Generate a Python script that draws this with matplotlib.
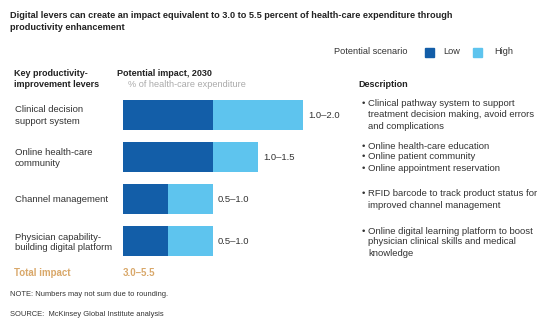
import matplotlib.pyplot as plt

plt.rcParams['font.family'] = ['Liberation Sans', 'DejaVu Sans']

# data
levers = [['Clinical decision', 'support system'], ['Online health-care', 'community'],
          ['Channel management'], ['Physician capability-', 'building digital platform']]
low = [1.0, 1.0, 0.5, 0.5]
high = [2.0, 1.5, 1.0, 1.0]
range_labels = ['1.0–2.0', '1.0–1.5', '0.5–1.0', '0.5–1.0']
total_label = '3.0–5.5'
descriptions = [
    [['Clinical pathway system to support', 'treatment decision making, avoid errors', 'and complications']],
    [['Online health-care education'], ['Online patient community'], ['Online appointment reservation']],
    [['RFID barcode to track product status for', 'improved channel management']],
    [['Online digital learning platform to boost', 'physician clinical skills and medical', 'knowledge']],
]

DARK = '#135ea8'
LIGHT = '#5ec4ee'
TAN = '#d9a86a'
INK = '#333333'
W, H = 550, 321
FS = 6.8

fig = plt.figure(figsize=(5.5, 3.21), dpi=100)
fig.patch.set_facecolor('white')


def txt(x, y, s, **kw):
    # pixel coords from top-left
    kw.setdefault('fontsize', FS)
    kw.setdefault('va', 'center')
    kw.setdefault('color', INK)
    fig.text(x / W, 1 - y / H, s, **kw)


# bars axes: x 0..2.5 over 123..348 px, rows centred at 115,157,199,241
ax = fig.add_axes([123 / W, 1 - 262 / H, 225 / W, 168 / H])
ax.set_xlim(0, 2.5)
ax.set_ylim(3.5, -0.5)
ypos = range(len(levers))
ax.barh(ypos, low, height=0.7, color=DARK)
ax.barh(ypos, [h - l for h, l in zip(high, low)], left=low, height=0.7, color=LIGHT)
for i, (h, lab) in enumerate(zip(high, range_labels)):
    ax.text(h + 0.055, i, lab, va='center', ha='left', fontsize=FS, color=INK)
ax.axis('off')

# title
txt(10, 16, 'Digital levers can create an impact equivalent to 3.0 to 5.5 percent of health-care expenditure through',
    fontweight='bold', fontsize=6.6, color='#222222')
txt(10, 28, 'productivity enhancement', fontweight='bold', fontsize=6.6, color='#222222')

# legend
txt(334, 52, 'Potential scenario', fontsize=6.6)
fig.patches.append(plt.Rectangle((425 / W, 1 - 56.5 / H), 9 / W, 9 / H, transform=fig.transFigure, color=DARK))
txt(443, 52, 'Low', fontsize=6.6)
fig.patches.append(plt.Rectangle((473 / W, 1 - 56.5 / H), 9 / W, 9 / H, transform=fig.transFigure, color=LIGHT))
txt(494, 52, 'High', fontsize=6.6)

# column headers
txt(14, 73, 'Key productivity-', fontweight='bold', fontsize=6.5, color='#222222')
txt(14, 85, 'improvement levers', fontweight='bold', fontsize=6.5, color='#222222')
txt(117, 73, 'Potential impact, 2030', fontweight='bold', fontsize=6.5, color='#222222')
txt(128, 85, '% of health-care expenditure', fontsize=6.6, color='#aaaaaa')
txt(358, 85, 'Description', fontweight='bold', fontsize=6.5, color='#222222')

# lever labels
lever_y = [[110, 122], [152, 164], [199], [237, 248]]
for lines, ys in zip(levers, lever_y):
    for s, y in zip(lines, ys):
        txt(15, y, s)

# total
txt(14, 273, 'Total impact', fontweight='bold', fontsize=7, color=TAN)
txt(123, 273, total_label, fontweight='bold', fontsize=7, color=TAN)

# descriptions
desc_y = [[[104, 115, 127]], [[146], [157], [169]], [[193, 205]], [[231, 242, 253]]]
for items, yss in zip(descriptions, desc_y):
    for lines, ys in zip(items, yss):
        txt(362, ys[0], '•')
        for s, y in zip(lines, ys):
            txt(368, y, s)

# footnotes
txt(10, 294, 'NOTE: Numbers may not sum due to rounding.', fontsize=5.4)
txt(10, 315, 'SOURCE:  McKinsey Global Institute analysis', fontsize=5.4)

fig.savefig('out.png', dpi=100, facecolor='white')
